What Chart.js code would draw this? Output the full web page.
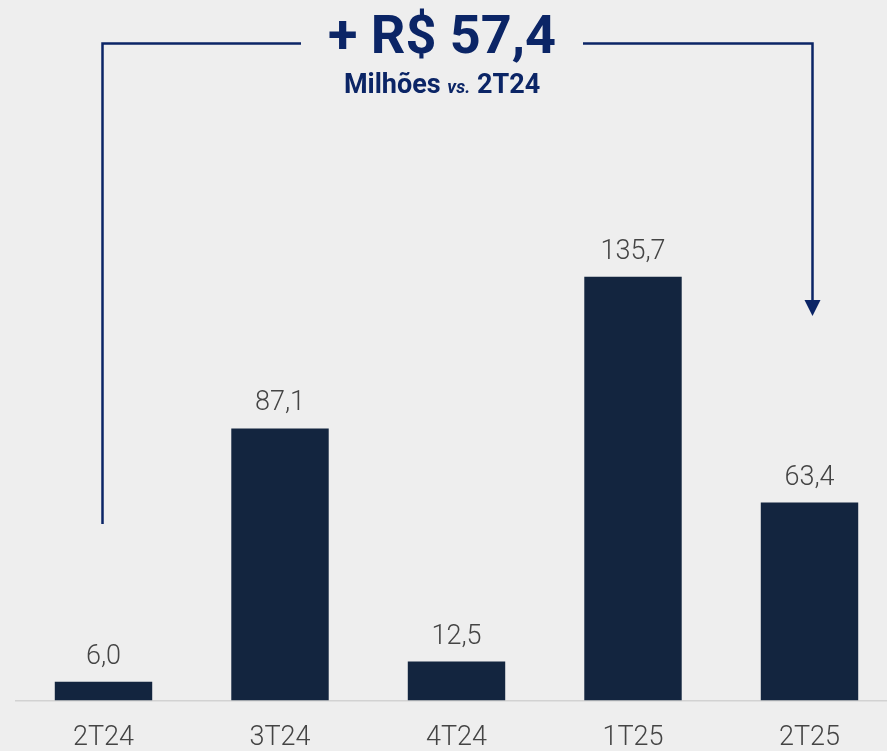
<!DOCTYPE html>
<html>
<head>
<meta charset="utf-8">
<script src="https://cdn.jsdelivr.net/npm/chart.js@4"></script>
<style>
  html, body { margin: 0; padding: 0; }
  body {
    width: 887px; height: 751px; overflow: hidden; position: relative;
    background: #eeeeee;
    font-family: Roboto, "Noto Sans", sans-serif;
  }
  #wrap { position: absolute; left: 0; top: 0; width: 900px; height: 776px; }
  .titulo {
    position: absolute; left: 242px; width: 400px; text-align: center;
    color: #0b2566; font-weight: 700; white-space: nowrap; line-height: 1;
  }
  #t1 { top: 8px; font-size: 54px; }
  #t2 { top: 71px; font-size: 27px; }
  #t2 i { font-size: 18px; font-weight: 700; }
</style>
</head>
<body>
<div id="wrap"><canvas id="chart"></canvas></div>
<div class="titulo" id="t1">+ R$ 57,4</div>
<div class="titulo" id="t2">Milhões <i>vs.</i> 2T24</div>
<script>
/* --------------------------
   DADOS
--------------------------- */
const trimestres = ['2T24', '3T24', '4T24', '1T25', '2T25'];
const valores = [6.0, 87.1, 12.5, 135.7, 63.4];
const yMax = 150;

const corBarra = '#13253f';
const corLinha = '#0b2566';

// rótulos com vírgula decimal
function fmt(v) {
    return v.toFixed(1).replace('.', ',');
}

/* --------------------------
   PLUGIN: rótulos de valor
--------------------------- */
const rotulos = {
    id: 'rotulos',
    afterDatasetsDraw(chart) {
        const ctx = chart.ctx;
        const meta = chart.getDatasetMeta(0);
        ctx.save();
        ctx.font = '300 27px Roboto';
        ctx.fillStyle = '#444444';
        ctx.textAlign = 'center';
        ctx.textBaseline = 'alphabetic';
        meta.data.forEach((bar, i) => {
            ctx.fillText(fmt(valores[i]), bar.x, bar.y - 18);
        });
        ctx.restore();
    }
};

/* --------------------------
   PLUGIN: colchete com seta
--------------------------- */
const colchete = {
    id: 'colchete',
    afterDraw(chart) {
        const ctx = chart.ctx;
        const x = chart.scales.x;
        const xi = x.getPixelForValue(0) - 1;
        const xf = x.getPixelForValue(trimestres.length - 1) + 3;
        const yTopo = 43.5;
        const meio = 442;
        ctx.save();
        ctx.strokeStyle = corLinha;
        ctx.fillStyle = corLinha;
        ctx.lineWidth = 2.5;
        ctx.beginPath();
        ctx.moveTo(xi, 524);
        ctx.lineTo(xi, yTopo);
        ctx.lineTo(meio - 141, yTopo);
        ctx.moveTo(meio + 141, yTopo);
        ctx.lineTo(xf, yTopo);
        ctx.lineTo(xf, 302);
        ctx.stroke();
        // ponta da seta
        ctx.beginPath();
        ctx.moveTo(xf - 8, 300);
        ctx.lineTo(xf + 8, 300);
        ctx.lineTo(xf, 316);
        ctx.closePath();
        ctx.fill();
        ctx.restore();
    }
};

/* --------------------------
   GRÁFICO
--------------------------- */
let ctx = document.getElementById('chart').getContext('2d');

let chart = new Chart(ctx, {
    type: 'bar',
    data: {
        labels: trimestres,
        datasets: [{
            data: valores,
            backgroundColor: corBarra,
            borderWidth: 0,
            categoryPercentage: 1,
            barPercentage: 0.552
        }]
    },
    options: {
        responsive: true,
        maintainAspectRatio: false,
        animation: false,
        layout: { padding: { left: 15.25, right: 2.25, top: 232, bottom: 0 } },
        plugins: {
            legend: { display: false },
            tooltip: { enabled: false }
        },
        scales: {
            x: {
                grid: { display: false, drawTicks: false },
                border: { display: true, color: '#d2d2d2', width: 1.5 },
                ticks: {
                    color: '#444444',
                    padding: 21.5,
                    font: { family: 'Roboto', size: 27, weight: '300' }
                }
            },
            y: {
                display: false,
                min: 0,
                max: yMax
            }
        }
    },
    plugins: [rotulos, colchete]
});
</script>
</body>
</html>
